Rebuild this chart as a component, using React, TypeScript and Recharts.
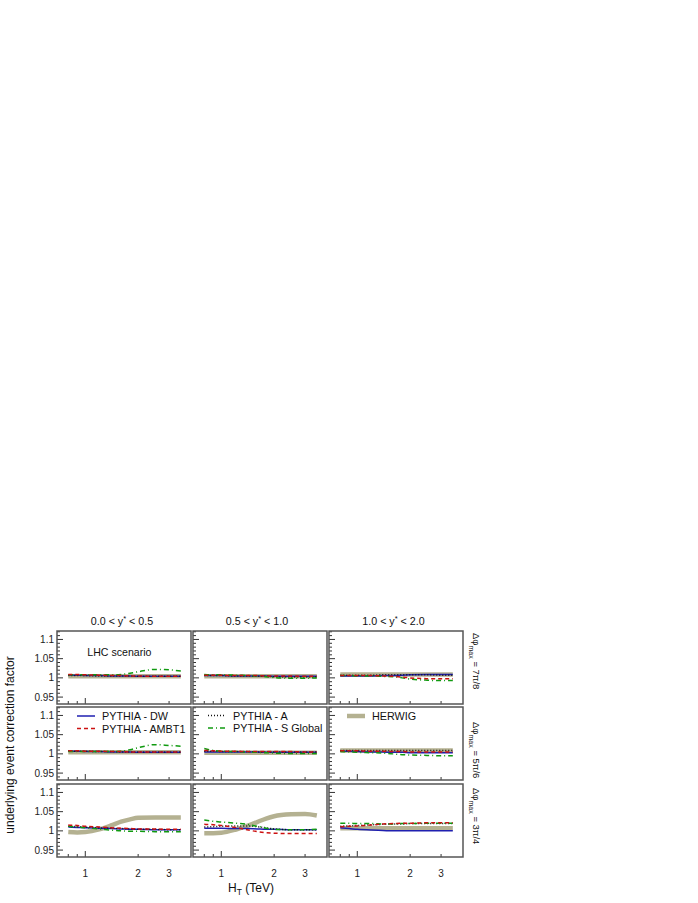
import React from 'react';
import { LineChart, Line, XAxis, YAxis } from 'recharts';

// ---------- data ----------
const HT = [0.8, 0.9, 1.0, 1.2, 1.4, 1.6, 1.8, 2.0, 2.5, 3.0, 3.5];

// panel order: row-major (row 0 = 7pi/8, row 1 = 5pi/6, row 2 = 3pi/4), columns = y* bins
const DW = [
  [1.007, 1.007, 1.006, 1.006, 1.005, 1.005, 1.005, 1.004, 1.004, 1.004, 1.004],
  [1.006, 1.006, 1.006, 1.005, 1.005, 1.005, 1.005, 1.004, 1.004, 1.004, 1.004],
  [1.005, 1.005, 1.005, 1.005, 1.006, 1.006, 1.007, 1.008, 1.009, 1.009, 1.009],
  [1.007, 1.007, 1.006, 1.006, 1.005, 1.005, 1.005, 1.004, 1.004, 1.004, 1.004],
  [1.005, 1.005, 1.005, 1.005, 1.005, 1.005, 1.004, 1.004, 1.004, 1.004, 1.004],
  [1.007, 1.007, 1.006, 1.005, 1.005, 1.004, 1.004, 1.003, 1.003, 1.003, 1.003],
  [1.010, 1.009, 1.008, 1.007, 1.006, 1.005, 1.004, 1.004, 1.003, 1.003, 1.003],
  [1.007, 1.007, 1.007, 1.006, 1.006, 1.005, 1.004, 1.004, 1.003, 1.003, 1.003],
  [1.008, 1.006, 1.004, 1.002, 1.001, 1.000, 1.000, 1.000, 1.000, 1.000, 1.000],
];
const AMBT1 = [
  [1.009, 1.009, 1.008, 1.007, 1.006, 1.006, 1.005, 1.005, 1.004, 1.004, 1.004],
  [1.007, 1.007, 1.007, 1.006, 1.006, 1.006, 1.005, 1.005, 1.005, 1.004, 1.004],
  [1.006, 1.006, 1.006, 1.006, 1.005, 1.004, 1.002, 1.000, 0.998, 0.998, 0.998],
  [1.008, 1.008, 1.007, 1.007, 1.006, 1.006, 1.005, 1.005, 1.005, 1.005, 1.005],
  [1.009, 1.008, 1.007, 1.007, 1.006, 1.006, 1.006, 1.006, 1.006, 1.005, 1.005],
  [1.008, 1.008, 1.008, 1.007, 1.007, 1.006, 1.006, 1.005, 1.005, 1.005, 1.005],
  [1.015, 1.014, 1.012, 1.010, 1.008, 1.007, 1.006, 1.005, 1.005, 1.004, 1.004],
  [1.017, 1.016, 1.014, 1.009, 1.003, 0.998, 0.995, 0.994, 0.993, 0.993, 0.993],
  [1.011, 1.012, 1.013, 1.015, 1.018, 1.019, 1.020, 1.020, 1.021, 1.021, 1.021],
];
const PYA = [
  [1.006, 1.006, 1.006, 1.005, 1.005, 1.005, 1.005, 1.004, 1.004, 1.004, 1.004],
  [1.006, 1.006, 1.006, 1.005, 1.005, 1.004, 1.004, 1.003, 1.002, 1.002, 1.002],
  [1.007, 1.007, 1.007, 1.007, 1.008, 1.008, 1.008, 1.008, 1.008, 1.007, 1.007],
  [1.008, 1.007, 1.007, 1.006, 1.006, 1.005, 1.005, 1.005, 1.005, 1.005, 1.005],
  [1.007, 1.007, 1.006, 1.006, 1.006, 1.005, 1.005, 1.005, 1.005, 1.005, 1.005],
  [1.009, 1.009, 1.009, 1.009, 1.009, 1.009, 1.009, 1.009, 1.009, 1.009, 1.009],
  [1.012, 1.011, 1.010, 1.008, 1.007, 1.006, 1.005, 1.004, 1.004, 1.003, 1.003],
  [1.010, 1.011, 1.012, 1.013, 1.013, 1.011, 1.008, 1.005, 1.003, 1.003, 1.003],
  [1.012, 1.013, 1.014, 1.016, 1.017, 1.018, 1.018, 1.019, 1.019, 1.019, 1.019],
];
const SGLOBAL = [
  [1.008, 1.008, 1.008, 1.008, 1.008, 1.009, 1.012, 1.016, 1.022, 1.021, 1.018],
  [1.009, 1.008, 1.008, 1.007, 1.006, 1.005, 1.003, 1.001, 0.999, 0.999, 1.000],
  [1.006, 1.006, 1.005, 1.005, 1.004, 1.003, 1.000, 0.997, 0.994, 0.993, 0.993],
  [1.006, 1.006, 1.006, 1.006, 1.006, 1.007, 1.011, 1.016, 1.024, 1.022, 1.020],
  [1.014, 1.009, 1.007, 1.006, 1.005, 1.004, 1.003, 1.002, 1.001, 1.001, 1.001],
  [1.006, 1.005, 1.004, 1.003, 1.002, 1.000, 0.998, 0.997, 0.996, 0.995, 0.995],
  [1.012, 1.010, 1.008, 1.005, 1.002, 1.000, 0.999, 0.999, 0.998, 0.998, 0.998],
  [1.028, 1.025, 1.023, 1.020, 1.017, 1.012, 1.007, 1.004, 1.003, 1.003, 1.004],
  [1.020, 1.020, 1.019, 1.019, 1.018, 1.018, 1.019, 1.019, 1.020, 1.020, 1.020],
];
const HERWIG = [
  [1.004, 1.004, 1.004, 1.004, 1.004, 1.004, 1.004, 1.004, 1.004, 1.004, 1.004],
  [1.004, 1.004, 1.004, 1.004, 1.004, 1.004, 1.004, 1.004, 1.004, 1.004, 1.004],
  [1.009, 1.009, 1.009, 1.009, 1.009, 1.009, 1.009, 1.009, 1.009, 1.009, 1.009],
  [1.004, 1.004, 1.004, 1.004, 1.004, 1.004, 1.004, 1.004, 1.004, 1.004, 1.004],
  [1.003, 1.003, 1.003, 1.003, 1.003, 1.003, 1.003, 1.003, 1.003, 1.003, 1.003],
  [1.009, 1.009, 1.009, 1.009, 1.009, 1.009, 1.009, 1.009, 1.009, 1.009, 1.009],
  [0.997, 0.996, 0.997, 1.004, 1.014, 1.024, 1.030, 1.034, 1.035, 1.035, 1.035],
  [0.994, 0.994, 0.995, 1.003, 1.013, 1.023, 1.032, 1.038, 1.043, 1.044, 1.040],
  [1.007, 1.007, 1.007, 1.007, 1.007, 1.007, 1.007, 1.007, 1.007, 1.007, 1.007],
];

const COL_BINS = [['0.0', '0.5'], ['0.5', '1.0'], ['1.0', '2.0']];
const ROW_LABELS = ['7π/8', '5π/6', '3π/4'];
const X_TICKS = [0.8, 0.9, 1, 2, 3];
const X_TICK_LABELS = [1, 2, 3];
const Y_TICKS = [0.94, 0.95, 0.96, 0.97, 0.98, 0.99, 1.0, 1.01, 1.02, 1.03, 1.04, 1.05,
  1.06, 1.07, 1.08, 1.09, 1.1, 1.11, 1.12];
const Y_TICK_LABELS = [0.95, 1, 1.05, 1.1];

// ---------- styles / layout ----------
const SERIES = [
  { key: 'herwig', name: 'HERWIG', color: '#b4b191', width: 4.5, dash: undefined },
  { key: 'dw', name: 'PYTHIA - DW', color: '#1f1fb0', width: 1.5, dash: undefined },
  { key: 'a', name: 'PYTHIA - A', color: '#111111', width: 1.5, dash: '1 2' },
  { key: 'sg', name: 'PYTHIA - S Global', color: '#109a10', width: 1.5, dash: '5 3 1 3' },
  { key: 'ambt1', name: 'PYTHIA - AMBT1', color: '#cc1111', width: 1.5, dash: '4 3' },
];
const COL_X = [57, 193, 329];
const ROW_Y = [631, 707, 784];
const W = 134;
const H = 73;
const AX = 1; // axis band thickness (recharts skips axes of size 0)
const FONT = 'Liberation Sans, Arial, Helvetica, sans-serif';

const isIn = (arr: number[], v: number) => arr.some((a) => Math.abs(a - v) < 1e-6);

const XTick = (props: any) => {
  const { x, y, payload, showLabel } = props;
  const v = payload.value;
  const len = Math.abs(v - 1) < 1e-6 ? 6 : 3;
  return (
    <g>
      <line x1={x} x2={x} y1={y} y2={y - len} stroke="#333" strokeWidth={1} />
      {showLabel && isIn(X_TICK_LABELS, v) && (
        <text x={x} y={y + 20} textAnchor="middle" fontSize={10} fontFamily={FONT} fill="#222">
          {String(v)}
        </text>
      )}
    </g>
  );
};

const YTick = (props: any) => {
  const { x, y, payload, showLabel } = props;
  const v = payload.value;
  const major = isIn(Y_TICK_LABELS, v);
  const len = major ? 6 : 3;
  return (
    <g>
      <line x1={x} x2={x + len} y1={y} y2={y} stroke="#333" strokeWidth={1} />
      {showLabel && major && (
        <text x={x - 3} y={y} textAnchor="end" dominantBaseline="central" fontSize={10} fontFamily={FONT} fill="#222">
          {String(Number(v.toFixed(2)))}
        </text>
      )}
    </g>
  );
};

function Panel({ p }: { p: number }) {
  const row = Math.floor(p / 3);
  const col = p % 3;
  const data = HT.map((h, i) => ({
    ht: h,
    dw: DW[p][i],
    ambt1: AMBT1[p][i],
    a: PYA[p][i],
    sg: SGLOBAL[p][i],
    herwig: HERWIG[p][i],
  }));
  return (
    <div style={{ position: 'absolute', left: COL_X[col] - AX, top: ROW_Y[row], width: W + AX, height: H + AX }}>
      <LineChart width={W + AX} height={H + AX} data={data} margin={{ top: 0, right: 0, bottom: 0, left: 0 }}>
        <XAxis
          dataKey="ht"
          type="number"
          scale="log"
          domain={[0.69, 4]}
          allowDataOverflow
          ticks={X_TICKS}
          interval={0}
          height={AX}
          tickSize={0}
          tickMargin={0}
          axisLine={false}
          tickLine={false}
          tick={(pr: any) => <XTick {...pr} showLabel={row === 2} />}
        />
        <YAxis
          type="number"
          domain={[0.932, 1.122]}
          allowDataOverflow
          ticks={Y_TICKS}
          interval={0}
          width={AX}
          tickSize={0}
          tickMargin={0}
          axisLine={false}
          tickLine={false}
          tick={(pr: any) => <YTick {...pr} showLabel={col === 0} />}
        />
        {SERIES.map((s) => (
          <Line
            key={s.key}
            dataKey={s.key}
            type="monotone"
            stroke={s.color}
            strokeWidth={s.width}
            strokeDasharray={s.dash}
            dot={false}
            activeDot={false}
            isAnimationActive={false}
          />
        ))}
      </LineChart>
    </div>
  );
}

const LegendItem = ({ s, x, y }: { s: any; x: number; y: number }) => (
  <g>
    <line x1={x} x2={x + 18} y1={y} y2={y} stroke={s.color} strokeWidth={s.key === 'herwig' ? 4.5 : 1.5}
      strokeDasharray={s.dash} />
    <text x={x + 25} y={y} dominantBaseline="central" fontSize={10.8} fontFamily={FONT} fill="#111">
      {s.name}
    </text>
  </g>
);

export default function App() {
  const sBy = (k: string) => SERIES.find((s) => s.key === k);
  const rowLabelStart = [633, 722, 788];
  const titleCx = [122, 257, 393.5];
  return (
    <div style={{ position: 'absolute', left: 0, top: 0, width: 698, height: 903, background: '#fff' }}>
      <style>{'.recharts-surface{overflow:visible}'}</style>
      {Array.from({ length: 9 }, (_, p) => (
        <Panel key={p} p={p} />
      ))}
      <svg width={698} height={903} style={{ position: 'absolute', left: 0, top: 0, pointerEvents: 'none' }}>
        {ROW_Y.map((ry, r) =>
          COL_X.map((cx, c) => (
            <rect key={`${r}-${c}`} x={cx} y={ry} width={W} height={H} fill="none" stroke="#555" strokeWidth={1.5} />
          ))
        )}
        {COL_BINS.map((b, c) => (
          <text key={c} x={titleCx[c]} y={625} textAnchor="middle" fontSize={10.7} fontFamily={FONT} fill="#111">
            {`${b[0]} < y`}
            <tspan fontSize={7.5} dy={-4}>*</tspan>
            <tspan dy={4}>{` < ${b[1]}`}</tspan>
          </text>
        ))}
        {ROW_LABELS.map((l, r) => (
          <text key={r} x={473} y={rowLabelStart[r]} transform={`rotate(90 473 ${rowLabelStart[r]})`}
            fontSize={9.5} fontFamily={FONT} fill="#111">
            <tspan>Δφ</tspan>
            <tspan fontSize={7} dy={4}>max</tspan>
            <tspan dy={-4}>{` = ${l}`}</tspan>
          </text>
        ))}
        <text x={14} y={745} transform="rotate(-90 14 745)" textAnchor="middle" fontSize={12} fontFamily={FONT} fill="#111">
          underlying event correction factor
        </text>
        <text x={228} y={892} fontSize={12} fontFamily={FONT} fill="#111">
          H<tspan fontSize={8.5} dy={3}>T</tspan>
          <tspan dy={-3}>{'  (TeV)'}</tspan>
        </text>
        <text x={87.3} y={655.5} fontSize={10.6} fontFamily={FONT} fill="#111">LHC scenario</text>
        <LegendItem s={sBy('dw')} x={77} y={716} />
        <LegendItem s={sBy('ambt1')} x={77} y={728.5} />
        <LegendItem s={sBy('a')} x={208} y={715.5} />
        <LegendItem s={sBy('sg')} x={208} y={728} />
        <LegendItem s={sBy('herwig')} x={347} y={716} />
      </svg>
    </div>
  );
}
